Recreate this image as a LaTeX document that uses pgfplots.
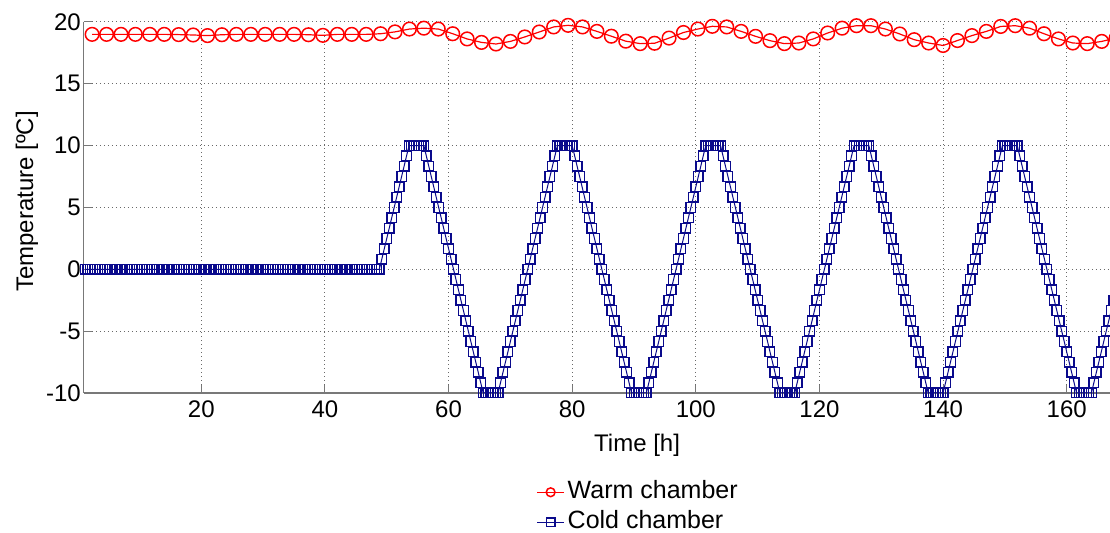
\documentclass[border=0pt]{standalone}
\usepackage{fontspec}
\setmainfont{Liberation Sans}
\usepackage{pgfplots}
\pgfplotsset{compat=1.18}
\definecolor{warmred}{RGB}{255,0,0}
\definecolor{coldblue}{RGB}{10,10,140}
\definecolor{axisgray}{RGB}{120,120,120}
\definecolor{gridgray}{RGB}{105,105,105}

\begin{document}
\begin{tikzpicture}
% page frame (the axis runs on past the right edge)
\path[use as bounding box] (-41.95pt,-70pt) rectangle (513.05pt,196.5pt);
\begin{axis}[
  at={(0pt,0pt)}, anchor=south west,
  scale only axis, width=553.2pt, height=185.5pt,
  xmin=1, xmax=180, ymin=-10, ymax=20,
  xtick={20,40,60,80,100,120,140,160},
  xticklabels={20,40,60,80,100,120,140,160},
  ytick={-10,-5,0,5,10,15,20},
  yticklabels={-10,-5,0,5,10,15,20},
  axis x line*=bottom, axis y line*=left,
  axis line style={-, draw=axisgray, line width=0.6pt},
  tick align=inside, major tick length=4pt,
  tick style={draw=axisgray, line width=0.5pt},
  grid=major,
  major grid style={draw=gridgray, line width=0.5pt, dash pattern=on 0.6pt off 1.4pt},
  tick label style={font=\fontsize{12}{14}\selectfont},
  yticklabel style={xshift=2pt},
  xticklabel style={yshift=-0.5pt},
  label style={font=\fontsize{12}{14}\selectfont},
  xlabel={Time [h]},
  xlabel style={at={(axis description cs:0.5,-0.159)}, anchor=base},
  ylabel={Temperature [ºC]},
  ylabel style={at={(axis description cs:-0.0514,0.516)}, anchor=center},
  legend cell align=left,
  legend style={draw=none, fill=none, at={(axis description cs:0.5,-0.308)},
    anchor=center, font=\fontsize{12.5}{15}\selectfont,
    row sep=3pt, column sep=1.5pt, inner sep=0pt,
    nodes={inner sep=0pt, text height=9pt, text depth=3pt}},
  legend image code/.code={\draw[mark repeat=2,mark phase=2,#1,mark size=2.2pt]
    plot coordinates {(0pt,0pt)(6.75pt,0pt)(13.5pt,0pt)};},
]
% warm chamber
\addplot[color=warmred, line width=0.6pt, mark=o, mark size=3.4pt,
  mark options={line width=0.75pt}] coordinates {
(2.33,19.0)(4.67,19.0)(7.0,19.0)(9.33,19.0)(11.67,19.0)(14.0,19.0)
(16.33,18.98)(18.67,18.95)(21.0,18.9)(23.33,18.97)(25.67,19.0)(28.0,19.0)
(30.33,19.0)(32.67,19.0)(35.0,19.0)(37.33,18.97)(39.67,18.92)(42.0,19.0)
(44.33,19.0)(46.67,19.0)(49.0,19.05)(51.33,19.2)(53.67,19.43)(56.0,19.5)
(58.33,19.43)(60.67,19.05)(63.0,18.63)(65.33,18.35)(67.67,18.22)(70.0,18.43)
(72.33,18.79)(74.67,19.19)(77.0,19.6)(79.33,19.73)(81.67,19.6)(84.0,19.24)
(86.33,18.85)(88.67,18.45)(91.0,18.25)(93.33,18.28)(95.67,18.7)(98.0,19.15)
(100.33,19.43)(102.67,19.65)(105.0,19.6)(107.33,19.24)(109.67,18.84)(112.0,18.49)
(114.33,18.25)(116.67,18.3)(119.0,18.63)(121.33,19.11)(123.67,19.5)(126.0,19.7)
(128.33,19.7)(130.67,19.43)(133.0,19.03)(135.33,18.57)(137.67,18.3)(140.0,18.1)
(142.33,18.5)(144.67,18.9)(147.0,19.24)(149.33,19.64)(151.67,19.7)(154.0,19.5)
(156.33,19.05)(158.67,18.63)(161.0,18.3)(163.33,18.25)(165.67,18.43)(168.0,18.7)
};
\addlegendentry{Warm chamber}
% cold chamber
\addplot[color=coldblue, line width=0.5pt, mark=square, mark size=2.4pt,
  mark options={line width=0.7pt}] coordinates {
(1.2,0)(1.6,0)(2.0,0)(2.4,0)(2.8,0)(3.2,0)(3.6,0)(4.0,0)(4.4,0)(4.8,0)
(5.2,0)(5.6,0)(6.0,0)(6.4,0)(6.8,0)(7.2,0)(7.6,0)(8.0,0)(8.4,0)(8.8,0)
(9.2,0)(9.6,0)(10.0,0)(10.4,0)(10.8,0)(11.2,0)(11.6,0)(12.0,0)(12.4,0)(12.8,0)
(13.2,0)(13.6,0)(14.0,0)(14.4,0)(14.8,0)(15.2,0)(15.6,0)(16.0,0)(16.4,0)(16.8,0)
(17.2,0)(17.6,0)(18.0,0)(18.4,0)(18.8,0)(19.2,0)(19.6,0)(20.0,0)(20.4,0)(20.8,0)
(21.2,0)(21.6,0)(22.0,0)(22.4,0)(22.8,0)(23.2,0)(23.6,0)(24.0,0)(24.4,0)(24.8,0)
(25.2,0)(25.6,0)(26.0,0)(26.4,0)(26.8,0)(27.2,0)(27.6,0)(28.0,0)(28.4,0)(28.8,0)
(29.2,0)(29.6,0)(30.0,0)(30.4,0)(30.8,0)(31.2,0)(31.6,0)(32.0,0)(32.4,0)(32.8,0)
(33.2,0)(33.6,0)(34.0,0)(34.4,0)(34.8,0)(35.2,0)(35.6,0)(36.0,0)(36.4,0)(36.8,0)
(37.2,0)(37.6,0)(38.0,0)(38.4,0)(38.8,0)(39.2,0)(39.6,0)(40.0,0)(40.4,0)(40.8,0)
(41.2,0)(41.6,0)(42.0,0)(42.4,0)(42.8,0)(43.2,0)(43.6,0)(44.0,0)(44.4,0)(44.8,0)
(45.2,0)(45.6,0)(46.0,0)(46.4,0)(46.8,0)(47.2,0)(47.6,0)(48.0,0)(48.4,0)(48.8,0)
(49.2,0.83)(49.6,1.67)(50.0,2.5)(50.4,3.33)(50.8,4.17)(51.2,5)(51.6,5.83)(52.0,6.67)
(52.4,7.5)(52.8,8.33)(53.2,9.17)(53.6,10)
(54.0,10)(54.4,10)(54.8,10)(55.2,10)(55.6,10)(56.0,10)
(56.4,9.17)(56.8,8.33)(57.2,7.5)(57.6,6.67)(58.0,5.83)(58.4,5)(58.8,4.17)(59.2,3.33)
(59.6,2.5)(60.0,1.67)(60.4,0.83)(60.8,0)(61.2,-0.83)(61.6,-1.67)(62.0,-2.5)(62.4,-3.33)
(62.8,-4.17)(63.2,-5)(63.6,-5.83)(64.0,-6.67)(64.4,-7.5)(64.8,-8.33)(65.2,-9.17)(65.6,-10)
(66.0,-10)(66.4,-10)(66.8,-10)(67.2,-10)(67.6,-10)(68.0,-10)
(68.4,-9.17)(68.8,-8.33)(69.2,-7.5)(69.6,-6.67)(70.0,-5.83)(70.4,-5)(70.8,-4.17)(71.2,-3.33)
(71.6,-2.5)(72.0,-1.67)(72.4,-0.83)(72.8,0)(73.2,0.83)(73.6,1.67)(74.0,2.5)(74.4,3.33)
(74.8,4.17)(75.2,5)(75.6,5.83)(76.0,6.67)(76.4,7.5)(76.8,8.33)(77.2,9.17)(77.6,10)
(78.0,10)(78.4,10)(78.8,10)(79.2,10)(79.6,10)(80.0,10)
(80.4,9.17)(80.8,8.33)(81.2,7.5)(81.6,6.67)(82.0,5.83)(82.4,5)(82.8,4.17)(83.2,3.33)
(83.6,2.5)(84.0,1.67)(84.4,0.83)(84.8,0)(85.2,-0.83)(85.6,-1.67)(86.0,-2.5)(86.4,-3.33)
(86.8,-4.17)(87.2,-5)(87.6,-5.83)(88.0,-6.67)(88.4,-7.5)(88.8,-8.33)(89.2,-9.17)(89.6,-10)
(90.0,-10)(90.4,-10)(90.8,-10)(91.2,-10)(91.6,-10)(92.0,-10)
(92.4,-9.17)(92.8,-8.33)(93.2,-7.5)(93.6,-6.67)(94.0,-5.83)(94.4,-5)(94.8,-4.17)(95.2,-3.33)
(95.6,-2.5)(96.0,-1.67)(96.4,-0.83)(96.8,0)(97.2,0.83)(97.6,1.67)(98.0,2.5)(98.4,3.33)
(98.8,4.17)(99.2,5)(99.6,5.83)(100.0,6.67)(100.4,7.5)(100.8,8.33)(101.2,9.17)(101.6,10)
(102.0,10)(102.4,10)(102.8,10)(103.2,10)(103.6,10)(104.0,10)
(104.4,9.17)(104.8,8.33)(105.2,7.5)(105.6,6.67)(106.0,5.83)(106.4,5)(106.8,4.17)(107.2,3.33)
(107.6,2.5)(108.0,1.67)(108.4,0.83)(108.8,0)(109.2,-0.83)(109.6,-1.67)(110.0,-2.5)(110.4,-3.33)
(110.8,-4.17)(111.2,-5)(111.6,-5.83)(112.0,-6.67)(112.4,-7.5)(112.8,-8.33)(113.2,-9.17)(113.6,-10)
(114.0,-10)(114.4,-10)(114.8,-10)(115.2,-10)(115.6,-10)(116.0,-10)
(116.4,-9.17)(116.8,-8.33)(117.2,-7.5)(117.6,-6.67)(118.0,-5.83)(118.4,-5)(118.8,-4.17)(119.2,-3.33)
(119.6,-2.5)(120.0,-1.67)(120.4,-0.83)(120.8,0)(121.2,0.83)(121.6,1.67)(122.0,2.5)(122.4,3.33)
(122.8,4.17)(123.2,5)(123.6,5.83)(124.0,6.67)(124.4,7.5)(124.8,8.33)(125.2,9.17)(125.6,10)
(126.0,10)(126.4,10)(126.8,10)(127.2,10)(127.6,10)(128.0,10)
(128.4,9.17)(128.8,8.33)(129.2,7.5)(129.6,6.67)(130.0,5.83)(130.4,5)(130.8,4.17)(131.2,3.33)
(131.6,2.5)(132.0,1.67)(132.4,0.83)(132.8,0)(133.2,-0.83)(133.6,-1.67)(134.0,-2.5)(134.4,-3.33)
(134.8,-4.17)(135.2,-5)(135.6,-5.83)(136.0,-6.67)(136.4,-7.5)(136.8,-8.33)(137.2,-9.17)(137.6,-10)
(138.0,-10)(138.4,-10)(138.8,-10)(139.2,-10)(139.6,-10)(140.0,-10)
(140.4,-9.17)(140.8,-8.33)(141.2,-7.5)(141.6,-6.67)(142.0,-5.83)(142.4,-5)(142.8,-4.17)(143.2,-3.33)
(143.6,-2.5)(144.0,-1.67)(144.4,-0.83)(144.8,0)(145.2,0.83)(145.6,1.67)(146.0,2.5)(146.4,3.33)
(146.8,4.17)(147.2,5)(147.6,5.83)(148.0,6.67)(148.4,7.5)(148.8,8.33)(149.2,9.17)(149.6,10)
(150.0,10)(150.4,10)(150.8,10)(151.2,10)(151.6,10)(152.0,10)
(152.4,9.17)(152.8,8.33)(153.2,7.5)(153.6,6.67)(154.0,5.83)(154.4,5)(154.8,4.17)(155.2,3.33)
(155.6,2.5)(156.0,1.67)(156.4,0.83)(156.8,0)(157.2,-0.83)(157.6,-1.67)(158.0,-2.5)(158.4,-3.33)
(158.8,-4.17)(159.2,-5)(159.6,-5.83)(160.0,-6.67)(160.4,-7.5)(160.8,-8.33)(161.2,-9.17)(161.6,-10)
(162.0,-10)(162.4,-10)(162.8,-10)(163.2,-10)(163.6,-10)(164.0,-10)
(164.4,-9.17)(164.8,-8.33)(165.2,-7.5)(165.6,-6.67)(166.0,-5.83)(166.4,-5)(166.8,-4.17)(167.2,-3.33)
(167.6,-2.5)(168.0,-1.67)
};
\addlegendentry{Cold chamber}
\end{axis}
\end{tikzpicture}
\end{document}
